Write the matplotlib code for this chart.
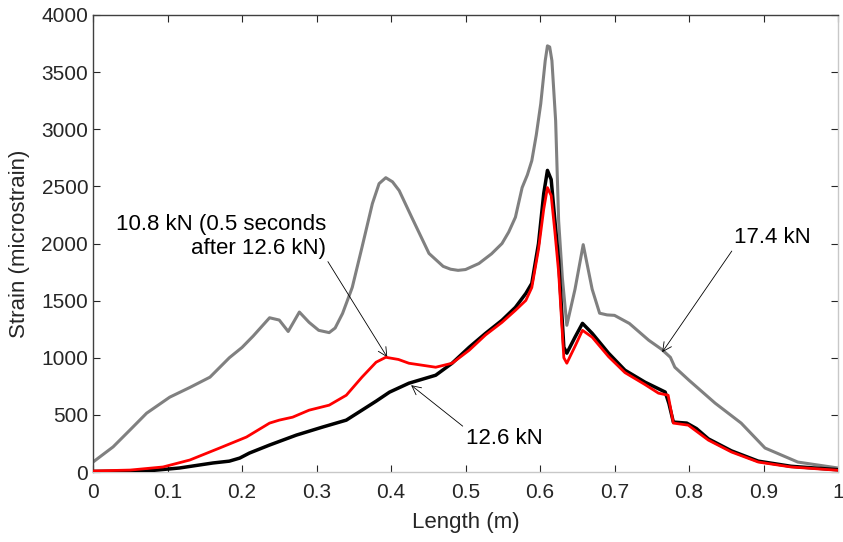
import matplotlib
matplotlib.use("Agg")
import matplotlib.pyplot as plt

plt.rcParams['font.family'] = ['Liberation Sans', 'DejaVu Sans']

# 17.4 kN (gray)
x_174 = [0, 0.027, 0.05, 0.072, 0.103, 0.13, 0.157, 0.183, 0.2, 0.215, 0.237, 0.25, 0.262,
         0.277, 0.29, 0.303, 0.317, 0.325, 0.335, 0.348, 0.361, 0.375, 0.384, 0.393, 0.402,
         0.411, 0.428, 0.451, 0.47, 0.48, 0.49, 0.5, 0.518, 0.535, 0.549, 0.558, 0.567,
         0.576, 0.583, 0.589, 0.595, 0.601, 0.607, 0.610, 0.613, 0.616, 0.621, 0.625, 0.630,
         0.636, 0.647, 0.658, 0.67, 0.68, 0.69, 0.7, 0.72, 0.746, 0.763, 0.775, 0.781, 0.8,
         0.835, 0.87, 0.902, 0.946, 1.0]
y_174 = [87, 220, 370, 515, 655, 740, 830, 1000, 1090, 1190, 1350, 1330, 1230,
         1400, 1310, 1240, 1220, 1260, 1388, 1616, 1965, 2349, 2524, 2576, 2540,
         2463, 2227, 1913, 1800, 1775, 1765, 1772, 1825, 1910, 2000, 2100, 2230,
         2489, 2600, 2725, 2950, 3223, 3600, 3730, 3720, 3600, 3074, 2201, 1700,
         1284, 1600, 1990, 1600, 1390, 1375, 1371, 1300, 1153, 1075, 1004, 917, 803,
         603, 428, 210, 87, 35]

# 12.6 kN (black)
x_126 = [0, 0.072, 0.116, 0.161, 0.183, 0.197, 0.21, 0.237, 0.273, 0.308, 0.34, 0.361,
         0.38, 0.398, 0.424, 0.46, 0.482, 0.505, 0.527, 0.549, 0.567, 0.581, 0.589, 0.598,
         0.605, 0.610, 0.615, 0.62, 0.625, 0.632, 0.636, 0.647, 0.657, 0.67, 0.692, 0.714,
         0.741, 0.768, 0.773, 0.779, 0.797, 0.81, 0.826, 0.857, 0.893, 0.937, 1.0]
y_126 = [5, 9, 35, 79, 95, 122, 166, 236, 323, 393, 454, 541,
         620, 699, 777, 847, 952, 1092, 1214, 1328, 1441, 1563, 1651, 2000,
         2437, 2640, 2560, 2200, 1852, 1092, 1040, 1180, 1301, 1214, 1040, 891,
         786, 700, 600, 437, 428, 380, 290, 185, 95, 50, 20]

# 10.8 kN, 0.5 s after 12.6 kN (red)
x_108 = [0, 0.05, 0.094, 0.13, 0.17, 0.206, 0.237, 0.25, 0.268, 0.29, 0.317, 0.34, 0.361,
         0.38, 0.393, 0.41, 0.424, 0.46, 0.482, 0.505, 0.527, 0.549, 0.567, 0.581, 0.589,
         0.598, 0.605, 0.610, 0.615, 0.62, 0.625, 0.632, 0.636, 0.647, 0.657, 0.67, 0.692,
         0.714, 0.741, 0.759, 0.772, 0.779, 0.799, 0.826, 0.857, 0.893, 0.937, 1.0]
y_108 = [9, 17, 44, 105, 210, 306, 428, 454, 480, 541, 585, 672, 830,
         961, 1004, 985, 952, 917, 952, 1066, 1200, 1310, 1415, 1502, 1615,
         1950, 2300, 2489, 2420, 2100, 1750, 1000, 952, 1100, 1240, 1180, 1010,
         870, 765, 690, 672, 428, 410, 279, 175, 87, 44, 15]

x_ticks = [0, 0.1, 0.2, 0.3, 0.4, 0.5, 0.6, 0.7, 0.8, 0.9, 1]
x_tick_labels = ['0', '0.1', '0.2', '0.3', '0.4', '0.5', '0.6', '0.7', '0.8', '0.9', '1']
y_ticks = [0, 500, 1000, 1500, 2000, 2500, 3000, 3500, 4000]

fig = plt.figure(figsize=(8.43, 5.42), dpi=100)
ax = fig.add_axes([93/843, 1 - 472/542, (838 - 93)/843, (472 - 15)/542])

ax.plot(x_174, y_174, color='#808080', lw=2.2, zorder=2, solid_joinstyle='round')
ax.plot(x_126, y_126, color='black', lw=2.5, zorder=3, solid_joinstyle='round')
ax.plot(x_108, y_108, color='#ff0000', lw=2.0, zorder=4, solid_joinstyle='round')

ax.set_xlim(0, 1)
ax.set_ylim(0, 4000)
ax.set_xticks(x_ticks)
ax.set_xticklabels(x_tick_labels)
ax.set_yticks(y_ticks)

dark = '#262626'
light = '#c8c8c8'
ax.tick_params(direction='in', length=5, width=0.8, labelsize=15, colors=dark,
               top=True, right=True)
ax.tick_params(axis='x', pad=8)
for side in ['left', 'top']:
    ax.spines[side].set_color('#404040')
for side in ['bottom', 'right']:
    ax.spines[side].set_color(light)
for s in ax.spines.values():
    s.set_linewidth(1.0)

ax.set_xlabel('Length (m)', fontsize=16, color=dark, labelpad=7)
ax.set_ylabel('Strain (microstrain)', fontsize=16, color=dark, labelpad=8)

ax.annotate('10.8 kN (0.5 seconds\nafter 12.6 kN)', xy=(0.395, 1004), xytext=(0.313, 2060),
            ha='right', va='center', fontsize=16, color='black', linespacing=1.15,
            arrowprops=dict(arrowstyle='->', color='black', lw=0.6, shrinkA=0, shrinkB=0,
                            relpos=(1.0, 0.0)))
ax.annotate('12.6 kN', xy=(0.427, 760), xytext=(0.5, 290),
            ha='left', va='center', fontsize=16, color='black',
            arrowprops=dict(arrowstyle='->', color='black', lw=0.6, shrinkA=0, shrinkB=0,
                            relpos=(0.0, 1.0)))
ax.annotate('17.4 kN', xy=(0.764, 1048), xytext=(0.86, 2050),
            ha='left', va='center', fontsize=16, color='black',
            arrowprops=dict(arrowstyle='->', color='black', lw=0.6, shrinkA=0, shrinkB=0,
                            relpos=(0.0, 0.0)))

fig.savefig('out.png', dpi=100)
